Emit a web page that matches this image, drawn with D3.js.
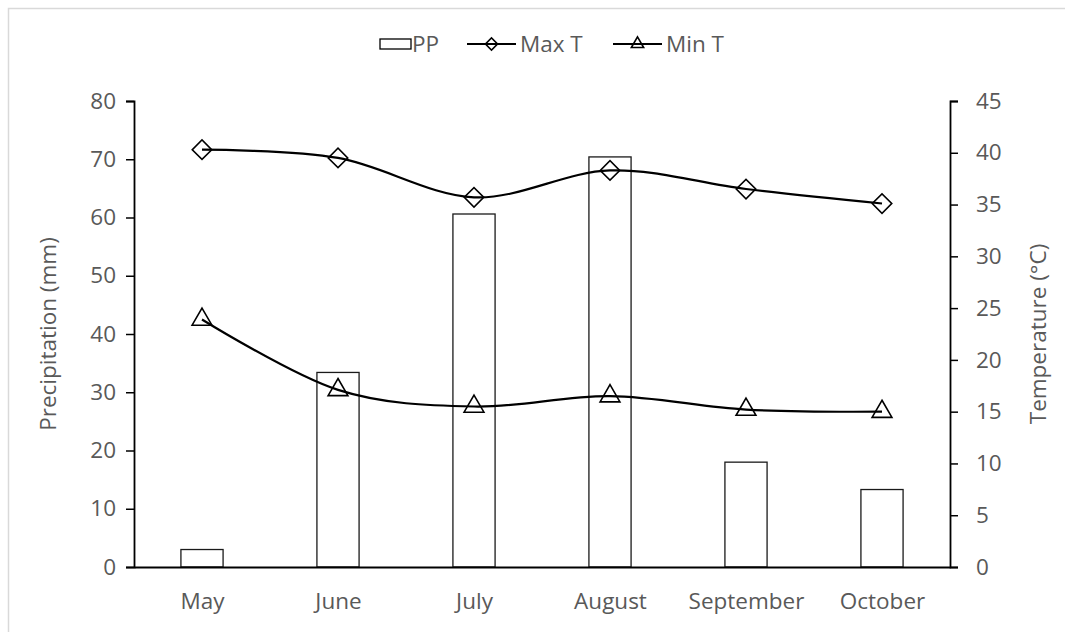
<!DOCTYPE html>
<html lang="en">
<head>
  <meta charset="UTF-8">
  <title>Precipitation and temperature</title>
  <script src="https://d3js.org/d3.v7.min.js"></script>
  <style>
    * { margin: 0; padding: 0; box-sizing: border-box; }
    body { font-family: "Open Sans", Arial, sans-serif; background: white; }
  </style>
</head>
<body>
  <div id="chart"></div>

  <script>
    // data
    const months = ["May", "June", "July", "August", "September", "October"];
    const precip = [3, 33.4, 60.6, 70.4, 18, 13.3];
    const maxT = [40.3, 39.5, 35.7, 38.3, 36.5, 35.1];
    const minT = [23.9, 17.1, 15.5, 16.5, 15.2, 15.0];
    const precipTicks = [0, 10, 20, 30, 40, 50, 60, 70, 80];
    const tempTicks = [0, 5, 10, 15, 20, 25, 30, 35, 40, 45];

    const W = 1065, H = 632;
    const margin = {top: 101, right: 115, bottom: 65, left: 134},
          width = W - margin.left - margin.right,
          height = H - margin.top - margin.bottom;

    const textColor = "#595959";
    const fontSize = "22.5px";

    const root = d3.select("#chart")
      .append("svg")
      .attr("width", W)
      .attr("height", H);

    // outer chart border
    root.append("rect")
      .attr("x", 8.5).attr("y", 8.5)
      .attr("width", W).attr("height", H)
      .attr("fill", "none")
      .attr("stroke", "#d9d9d9")
      .attr("stroke-width", 1.5);

    const svg = root.append("g")
      .attr("transform", `translate(${margin.left},${margin.top})`);

    const x = d3.scaleBand()
      .domain(months)
      .range([0, width])
      .paddingInner(0.69)
      .paddingOuter(0.345);

    const xc = d3.scalePoint()
      .domain(months)
      .range([0, width])
      .padding(0.5);

    const yL = d3.scaleLinear().domain([0, 80]).range([height, 0]);
    const yR = d3.scaleLinear().domain([0, 45]).range([height, 0]);

    // bars
    svg.selectAll(".bar")
      .data(months.map((m, i) => ({m, v: precip[i]})))
      .enter()
      .append("rect")
      .attr("class", "bar")
      .attr("x", d => x(d.m))
      .attr("y", d => yL(d.v))
      .attr("width", x.bandwidth())
      .attr("height", d => height - yL(d.v))
      .attr("fill", "white")
      .attr("stroke", "#1a1a1a")
      .attr("stroke-width", 1.3);

    // left axis
    const gL = svg.append("g")
      .call(d3.axisLeft(yL).tickValues(precipTicks).tickSize(8).tickPadding(10));
    gL.select(".domain").attr("stroke", "black").attr("stroke-width", 1.8);
    gL.selectAll(".tick line").attr("stroke", "black").attr("stroke-width", 1.5);
    gL.selectAll("text").attr("fill", textColor).style("font-size", fontSize)
      .style("font-family", "'Open Sans', sans-serif");

    // right axis
    const gR = svg.append("g")
      .attr("transform", `translate(${width},0)`)
      .call(d3.axisRight(yR).tickValues(tempTicks).tickSize(8).tickPadding(18));
    gR.select(".domain").attr("stroke", "black").attr("stroke-width", 1.8);
    gR.selectAll(".tick line").attr("stroke", "black").attr("stroke-width", 1.5);
    gR.selectAll("text").attr("fill", textColor).style("font-size", fontSize)
      .style("font-family", "'Open Sans', sans-serif");

    // bottom axis
    const gB = svg.append("g")
      .attr("transform", `translate(0,${height})`)
      .call(d3.axisBottom(xc).tickSize(0).tickPadding(26));
    gB.select(".domain").attr("stroke", "black").attr("stroke-width", 1.8);
    gB.selectAll("text").attr("fill", textColor).style("font-size", fontSize)
      .style("font-family", "'Open Sans', sans-serif");

    // axis titles
    root.append("text")
      .attr("transform", `translate(48,${margin.top + height / 2}) rotate(-90)`)
      .attr("text-anchor", "middle")
      .attr("dy", "0.35em")
      .attr("fill", textColor)
      .style("font-size", fontSize)
      .text("Precipitation (mm)");

    root.append("text")
      .attr("transform", `translate(1038,${margin.top + height / 2}) rotate(-90)`)
      .attr("text-anchor", "middle")
      .attr("dy", "0.35em")
      .attr("fill", textColor)
      .style("font-size", fontSize)
      .text("Temperature (°C)");

    // lines
    const diamond = d3.symbol().type(d3.symbolSquare).size(190);
    const triangle = d3.symbol().type(d3.symbolTriangle).size(170);

    const series = [
      {name: "Max T", values: maxT, sym: diamond, rot: 45},
      {name: "Min T", values: minT, sym: triangle, rot: 0}
    ];

    const line = d3.line()
      .x((d, i) => xc(months[i]))
      .y(d => yR(d))
      .curve(d3.curveCardinal.tension(0));

    series.forEach(s => {
      svg.append("path")
        .datum(s.values)
        .attr("fill", "none")
        .attr("stroke", "black")
        .attr("stroke-width", 2.2)
        .attr("d", line);

      svg.selectAll(null)
        .data(s.values)
        .enter()
        .append("path")
        .attr("d", s.sym)
        .attr("transform", (d, i) => `translate(${xc(months[i])},${yR(d)}) rotate(${s.rot})`)
        .attr("fill", "none")
        .attr("stroke", "black")
        .attr("stroke-width", 1.6);
    });

    // legend
    const leg = root.append("g").attr("transform", "translate(0,44)");
    leg.append("rect")
      .attr("x", 380).attr("y", -5)
      .attr("width", 31).attr("height", 10)
      .attr("fill", "white").attr("stroke", "black").attr("stroke-width", 1.3);
    leg.append("text").attr("x", 412).attr("y", 0).attr("dy", "0.35em")
      .attr("fill", textColor).style("font-size", fontSize).text("PP");

    [{name: "Max T", x0: 467, sym: diamond, rot: 45, size: 0.62},
     {name: "Min T", x0: 613, sym: triangle, rot: 0, size: 0.62}].forEach(l => {
      leg.append("line")
        .attr("x1", l.x0).attr("x2", l.x0 + 49)
        .attr("y1", 0).attr("y2", 0)
        .attr("stroke", "black").attr("stroke-width", 2.2);
      leg.append("path")
        .attr("d", l.sym)
        .attr("transform", `translate(${l.x0 + 24.5},0) rotate(${l.rot}) scale(${l.size})`)
        .attr("fill", "none").attr("stroke", "black").attr("stroke-width", 1.6 / l.size);
      leg.append("text").attr("x", l.x0 + 53).attr("y", 0).attr("dy", "0.35em")
        .attr("fill", textColor).style("font-size", fontSize).text(l.name);
    });
  </script>
</body>
</html>
